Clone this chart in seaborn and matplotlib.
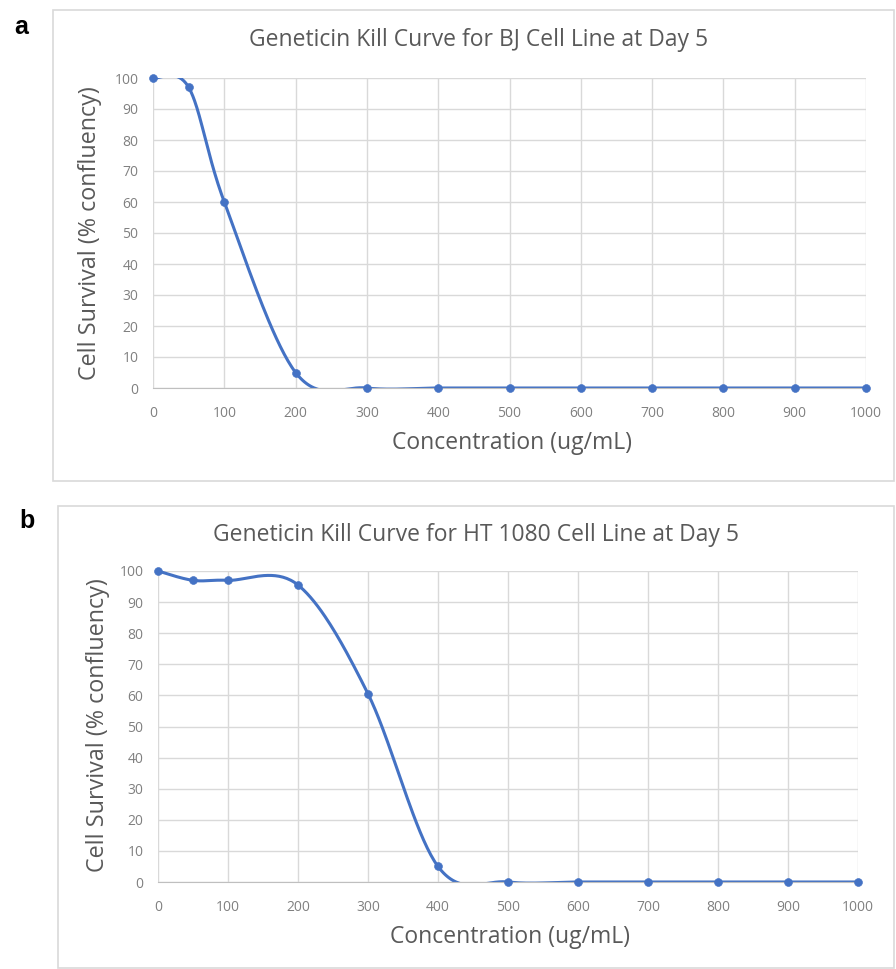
import numpy as np
import pandas as pd
import seaborn as sns
import matplotlib
matplotlib.use("Agg")
import matplotlib.pyplot as plt
from matplotlib.patches import Rectangle

# data
conc_a = [0, 50, 100, 200, 300, 400, 500, 600, 700, 800, 900, 1000]
surv_a = [100, 97, 60, 5, 0, 0, 0, 0, 0, 0, 0, 0]
conc_b = [0, 50, 100, 200, 300, 400, 500, 600, 700, 800, 900, 1000]
surv_b = [100, 97, 97, 95.5, 60.5, 5, 0, 0, 0, 0, 0, 0]

title_a = "Geneticin Kill Curve for BJ Cell Line at Day 5"
title_b = "Geneticin Kill Curve for HT 1080 Cell Line at Day 5"
xlab = "Concentration (ug/mL)"
ylab = "Cell Survival (% confluency)"

BLUE = "#4472C4"
GRID = "#D9D9D9"
TXT = "#595959"
TICK = "#808080"
W, H = 896, 969


def smooth(xs, ys, sx, sy, n=40):
    # Excel-like smoothed line: cubic bezier with catmull-rom controls,
    # done in pixel units so the bends look like the original
    p = np.column_stack([np.array(xs) * sx, np.array(ys) * sy])
    out = []
    for i in range(len(p) - 1):
        p0 = p[max(i - 1, 0)]
        p1 = p[i]
        p2 = p[i + 1]
        p3 = p[min(i + 2, len(p) - 1)]
        c1 = p1 + (p2 - p0) / 6
        c2 = p2 - (p3 - p1) / 6
        t = np.linspace(0, 1, n)[:, None]
        seg = (1 - t) ** 3 * p1 + 3 * (1 - t) ** 2 * t * c1 + 3 * (1 - t) * t ** 2 * c2 + t ** 3 * p2
        out.append(seg)
    c = np.vstack(out)
    return c[:, 0] / sx, c[:, 1] / sy


sns.set_style("white")
plt.rcParams["font.family"] = ["Open Sans", "DejaVu Sans"]

fig = plt.figure(figsize=(W / 100, H / 100), dpi=100)


def px(x0, y0, x1, y1):
    # pixel box -> figure fraction [left, bottom, width, height]
    return [x0 / W, 1 - y1 / H, (x1 - x0) / W, (y1 - y0) / H]


# outer chart boxes
for bx in [px(53, 10, 894, 481), px(58, 506, 894, 968)]:
    fig.patches.append(Rectangle((bx[0], bx[1]), bx[2], bx[3], transform=fig.transFigure,
                                 fill=False, edgecolor=GRID, lw=1.2))

ax_a = fig.add_axes(px(153, 78, 866, 388))
ax_b = fig.add_axes(px(158, 571, 858, 882))

panels = [
    # ax, x, y, title, letter, letter xy, title xy, xlabel xy, ylabel xy
    (ax_a, conc_a, surv_a, title_a, "a", (21, 27), (479, 40), (512, 443), (90, 233)),
    (ax_b, conc_b, surv_b, title_b, "b", (27, 521), (476, 535), (510, 937), (98, 725)),
]

for ax, xs, ys, ttl, letter, lp, tp, xp, yp in panels:
    df = pd.DataFrame({"conc": xs, "surv": ys})
    bb = ax.get_position()
    sx = bb.width * W / 1000.0
    sy = bb.height * H / 100.0
    cx, cy = smooth(xs, ys, sx, sy)
    sm = pd.DataFrame({"conc": cx, "surv": cy})
    sns.lineplot(data=sm, x="conc", y="surv", ax=ax, color=BLUE, lw=2.2, sort=False,
                 estimator=None)
    sns.scatterplot(data=df, x="conc", y="surv", ax=ax, color=BLUE, s=32,
                    edgecolor=BLUE, zorder=5, clip_on=False)
    ax.set_xlim(0, 1000)
    ax.set_ylim(0, 100)
    ax.set_xticks(np.arange(0, 1001, 100))
    ax.set_yticks(np.arange(0, 101, 10))
    ax.grid(True, color=GRID, lw=1)
    ax.set_axisbelow(True)
    for s in ["top", "right", "left"]:
        ax.spines[s].set_visible(False)
    ax.spines["bottom"].set_color("#BFBFBF")
    ax.tick_params(axis="x", length=0, labelsize=10, labelcolor=TICK, pad=13)
    ax.tick_params(axis="y", length=0, labelsize=10, labelcolor=TICK, pad=10.5)
    ax.set_xlabel("")
    ax.set_ylabel("")
    fig.text(xp[0] / W, 1 - xp[1] / H, xlab, ha="center", va="center", fontsize=16.5, color=TXT)
    fig.text(yp[0] / W, 1 - yp[1] / H, ylab, ha="center", va="center", rotation=90,
             fontsize=16.8, color=TXT)
    fig.text(tp[0] / W, 1 - tp[1] / H, ttl, ha="center", va="center", fontsize=16.5, color=TXT)
    fig.text(lp[0] / W, 1 - lp[1] / H, letter, ha="center", va="center", fontsize=18,
             fontweight="bold", color="black", family=["Liberation Sans", "DejaVu Sans"])

fig.savefig("out.png", dpi=100)
